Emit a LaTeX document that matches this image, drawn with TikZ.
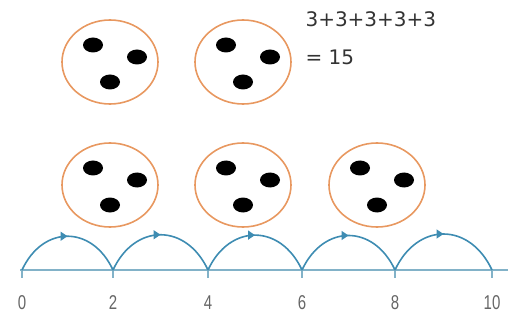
\documentclass[tikz,border=0pt]{standalone}
\usepackage{fontspec}
\setmainfont{DejaVu Sans}
\newfontfamily\numfont[FakeStretch=0.75]{Liberation Sans}
\usetikzlibrary{decorations.markings,arrows.meta}
\definecolor{ringorange}{RGB}{232,152,96}
\definecolor{jumpblue}{RGB}{62,140,178}
\definecolor{axisblue}{RGB}{130,178,200}
\tikzset{
  bubble/.style={draw=ringorange, line width=1.6pt, ellipse, minimum width=96pt, minimum height=84pt, inner sep=0pt},
  bead/.style={fill=black, ellipse, minimum width=20pt, minimum height=15pt, inner sep=0pt},
  jump/.style={jumpblue, line width=1.6pt, out=65, in=115, looseness=1.4,
    postaction={decorate, decoration={markings,
      mark=at position 0.5 with {\arrow{Triangle[length=7pt,width=9pt]}}}}},
  tickmark/.style={axisblue, line width=1.5pt},
  numlabel/.style={text=black!60, font=\numfont\fontsize{20}{20}\selectfont},
  sumtext/.style={anchor=west, text=black!80, font=\fontsize{20}{20}\selectfont},
}
\usetikzlibrary{shapes.geometric}
\begin{document}
\begin{tikzpicture}[x=1pt, y=-1pt]
    \useasboundingbox (0,0) rectangle (508,323);

    % Groups of three
    \foreach \name/\x/\y in {g1/110/62, g2/243/62, g3/110/185, g4/243/185, g5/377/185} {
        \node[bubble] (\name) at (\x,\y) {};
        \node[bead] (\name a) at ([shift={(-17,-17)}]\name.center) {};
        \node[bead] (\name b) at ([shift={(27,-5)}]\name.center) {};
        \node[bead] (\name c) at ([shift={(0,20)}]\name.center) {};
    }

    % Sum
    \node[sumtext] (sum) at (302,19) {3+3+3+3+3};
    \node[sumtext] (total) at (302,57) {= 15};

    % Number line
    \coordinate (start) at (20,270);
    \coordinate (end) at (508,270);
    \draw[axisblue, line width=2.5pt] (start) -- (end);
    \foreach \n/\x in {0/22, 2/113, 4/208, 6/302, 8/395, 10/492} {
        \coordinate (m\n) at (\x,270);
        \draw[tickmark] (m\n) -- ++(0,8);
        \node[numlabel] (l\n) at (\x,303) {\n};
    }

    % Jumps
    \foreach \a/\b in {0/2, 2/4, 4/6, 6/8, 8/10}
        \draw[jump] (m\a) to (m\b);
\end{tikzpicture}
\end{document}
